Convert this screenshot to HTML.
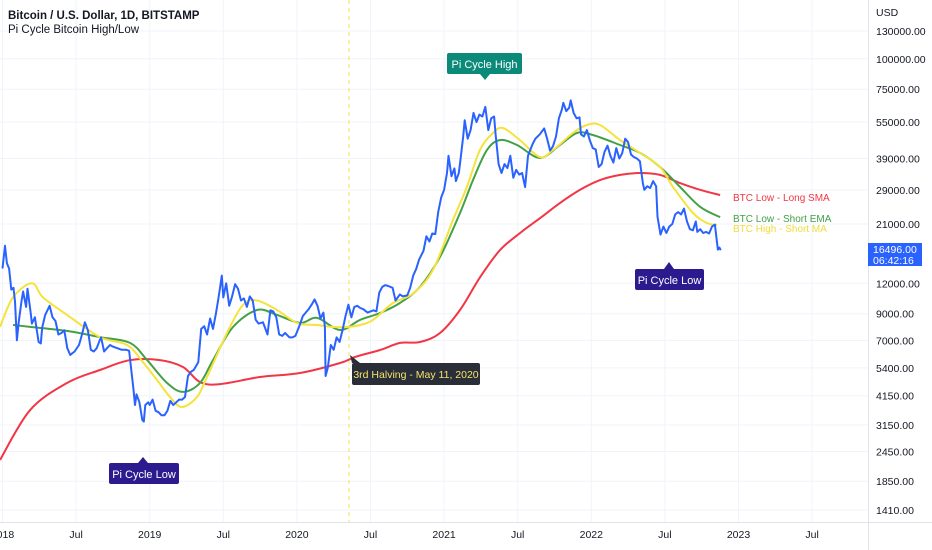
<!DOCTYPE html>
<html><head><meta charset="utf-8">
<style>
body{margin:0;background:#fff;width:932px;height:550px;overflow:hidden;font-family:"Liberation Sans",sans-serif;}
svg{display:block}
</style></head>
<body>
<svg id="chart" width="932" height="550" xmlns="http://www.w3.org/2000/svg">
<g id="grid"></g>
<g id="axes"></g>
<line x1="349" y1="0" x2="349" y2="522" stroke="#f0e35a" stroke-width="1" stroke-dasharray="4,4"/>
<g id="series"></g>
<text x="8" y="19" font-size="11.5" font-weight="bold" fill="#131722">Bitcoin / U.S. Dollar, 1D, BITSTAMP</text>
<text x="8" y="33" font-size="11.5" fill="#131722">Pi Cycle Bitcoin High/Low</text>
<g>
<rect x="447" y="53" width="75" height="21" rx="2" fill="#0b8a7a"/>
<path d="M480,74 L485,80 L490,74 Z" fill="#0b8a7a"/>
<text x="484.5" y="68" font-size="11" fill="#fff" text-anchor="middle">Pi Cycle High</text>
</g>
<g>
<rect x="109" y="463" width="70" height="21" rx="2" fill="#2b1b8f"/>
<path d="M138,463 L143,457 L148,463 Z" fill="#2b1b8f"/>
<text x="144" y="478" font-size="11" fill="#fff" text-anchor="middle">Pi Cycle Low</text>
</g>
<g>
<rect x="635" y="269" width="69" height="21" rx="2" fill="#2b1b8f"/>
<path d="M664,269 L669,262 L674,269 Z" fill="#2b1b8f"/>
<text x="669.5" y="284" font-size="11" fill="#fff" text-anchor="middle">Pi Cycle Low</text>
</g>
<g>
<rect x="352" y="363" width="128" height="22" rx="2" fill="#2a2e39"/>
<path d="M352,363 L350,355 L360,363 Z" fill="#2a2e39"/>
<text x="416" y="378" font-size="10.5" fill="#f5e36b" text-anchor="middle">3rd Halving - May 11, 2020</text>
</g>
<text x="733" y="201" font-size="10" fill="#f23645">BTC Low - Long SMA</text>
<text x="733" y="222" font-size="10" fill="#43a047">BTC Low - Short EMA</text>
<text x="733" y="232" font-size="10" fill="#f0dc3a">BTC High - Short MA</text>
<text x="876" y="16" font-size="10.5" fill="#131722">USD</text>
<g>
<rect x="868" y="243" width="54" height="23" fill="#2962ff"/>
<text x="873" y="253" font-size="10.5" fill="#fff">16496.00</text>
<text x="873" y="264" font-size="10.5" fill="#fff">06:42:16</text>
</g>
</svg>
<script>
const priceTicks=[130000,100000,75000,55000,39000,29000,21000,12000,9000,7000,5400,4150,3150,2450,1850,1410];
const priceTickLabels=["130000.00","100000.00","75000.00","55000.00","39000.00","29000.00","21000.00","12000.00","9000.00","7000.00","5400.00","4150.00","3150.00","2450.00","1850.00","1410.00"];
const dateTicks=[2018,2018.5,2019,2019.5,2020,2020.5,2021,2021.5,2022,2022.5,2023,2023.5];
const dateTickLabels=["2018","Jul","2019","Jul","2020","Jul","2021","Jul","2022","Jul","2023","Jul"];

const priceDates=[2018.0,2018.017,2018.03,2018.045,2018.06,2018.075,2018.085,2018.098,2018.11,2018.13,2018.14,2018.16,2018.17,2018.19,2018.2,2018.22,2018.23,2018.245,2018.26,2018.27,2018.29,2018.32,2018.34,2018.36,2018.38,2018.4,2018.42,2018.44,2018.46,2018.49,2018.52,2018.54,2018.56,2018.58,2018.6,2018.62,2018.64,2018.66,2018.67,2018.69,2018.71,2018.73,2018.75,2018.78,2018.81,2018.84,2018.86,2018.87,2018.89,2018.9,2018.91,2018.93,2018.95,2018.96,2018.97,2018.99,2019.0,2019.02,2019.04,2019.06,2019.08,2019.1,2019.12,2019.14,2019.16,2019.18,2019.2,2019.22,2019.24,2019.26,2019.28,2019.3,2019.33,2019.35,2019.37,2019.39,2019.41,2019.43,2019.45,2019.47,2019.49,2019.5,2019.52,2019.54,2019.56,2019.58,2019.6,2019.62,2019.64,2019.66,2019.68,2019.7,2019.72,2019.74,2019.77,2019.8,2019.82,2019.84,2019.86,2019.88,2019.9,2019.92,2019.95,2019.97,2019.99,2020.02,2020.04,2020.06,2020.08,2020.1,2020.12,2020.14,2020.16,2020.18,2020.19,2020.195,2020.21,2020.23,2020.25,2020.27,2020.29,2020.31,2020.33,2020.35,2020.37,2020.39,2020.41,2020.43,2020.45,2020.48,2020.5,2020.52,2020.54,2020.56,2020.58,2020.6,2020.62,2020.65,2020.67,2020.7,2020.72,2020.75,2020.77,2020.79,2020.81,2020.83,2020.86,2020.88,2020.9,2020.92,2020.94,2020.96,2020.98,2021.0,2021.02,2021.03,2021.05,2021.07,2021.08,2021.1,2021.11,2021.13,2021.14,2021.16,2021.18,2021.2,2021.22,2021.24,2021.26,2021.28,2021.3,2021.32,2021.34,2021.35,2021.37,2021.39,2021.41,2021.43,2021.45,2021.47,2021.49,2021.51,2021.53,2021.55,2021.57,2021.6,2021.62,2021.65,2021.68,2021.7,2021.72,2021.74,2021.76,2021.78,2021.8,2021.81,2021.83,2021.85,2021.86,2021.88,2021.9,2021.92,2021.93,2021.95,2021.97,2021.99,2022.01,2022.03,2022.05,2022.07,2022.09,2022.11,2022.13,2022.15,2022.17,2022.19,2022.21,2022.23,2022.25,2022.27,2022.29,2022.31,2022.33,2022.35,2022.36,2022.38,2022.4,2022.42,2022.44,2022.45,2022.47,2022.49,2022.51,2022.53,2022.55,2022.57,2022.59,2022.61,2022.63,2022.65,2022.67,2022.69,2022.71,2022.72,2022.74,2022.76,2022.78,2022.8,2022.82,2022.84,2022.85,2022.86,2022.87,2022.88];
const priceValues=[13800,17100,14500,13800,11300,11500,10100,7000,8300,10200,11100,9600,11400,9200,8200,8700,7900,6900,6800,7900,8900,9700,8700,8400,7400,7500,7700,6500,6100,6300,6700,7400,8300,7700,6400,6300,6500,7000,7200,6300,6500,6700,6600,6500,6400,6400,6350,5600,4400,3800,4200,3900,3300,3250,3800,3900,3800,4000,3600,3550,3450,3450,3600,3950,3800,3900,4000,4000,4100,5000,5200,5300,5700,7800,8000,7400,8600,7800,9000,10700,12900,10500,12000,9700,10600,11900,11400,10200,10400,9600,10600,10200,8500,8200,8300,7400,9300,9200,8700,7400,7300,7500,7200,7200,7300,8100,8800,9100,9400,9800,10300,9700,8600,9100,7900,5000,5400,6700,6400,7200,6900,7700,8800,9800,8700,9600,9700,9500,9400,9100,9200,9300,9200,11000,11600,11800,11700,11500,10200,10800,10600,10700,11500,12900,13700,15000,16300,18700,17800,19200,19100,23500,27000,29000,34000,40000,33000,35500,31500,34000,38000,48000,56000,47000,51000,60000,55000,59000,58000,63500,51000,57000,58000,49000,37000,34000,37000,35600,40000,32500,35000,33500,34000,29800,40000,44500,47000,49000,51800,47000,42000,43800,48000,57000,62000,66000,61000,63000,67500,60000,57000,57500,49000,48000,51000,46300,43000,42500,36000,37000,41500,44000,40000,37500,43000,39000,41000,47000,45500,40500,39500,39000,38000,31000,29000,30000,29500,31500,30000,22500,19000,20500,19300,20500,21000,23000,23500,23000,24300,21500,20000,19800,21500,19500,20000,19300,19500,19200,20500,20900,18500,16500,16800,16400];

const longSmaDates=[2017.983,2018.187,2018.438,2018.662,2018.866,2019.070,2019.226,2019.342,2019.478,2019.749,2020.021,2020.293,2020.395,2020.565,2020.701,2020.836,2020.972,2021.108,2021.244,2021.379,2021.516,2021.652,2021.787,2021.924,2022.059,2022.196,2022.331,2022.467,2022.603,2022.739,2022.875];
const longSmaValues=[2260,3620,4680,5290,5810,5810,5440,4720,4630,4950,5140,5650,5980,6390,6830,6890,7500,9320,12700,16400,19300,22200,25600,29000,31800,33400,34000,33400,30900,29000,27600];

const shortEmaDates=[2018.071,2018.187,2018.438,2018.662,2018.866,2018.982,2019.118,2019.226,2019.342,2019.430,2019.566,2019.729,2019.865,2020.021,2020.137,2020.293,2020.429,2020.565,2020.70,2020.836,2020.972,2021.108,2021.196,2021.291,2021.379,2021.495,2021.651,2021.787,2021.902,2022.011,2022.195,2022.331,2022.467,2022.603,2022.739,2022.875];
const shortEmaValues=[8100,7950,7650,7220,6830,5810,4680,4300,4680,5810,7940,9320,8900,8250,8650,7720,8490,9060,9960,11600,15400,23300,31800,42200,46400,44300,39200,44300,49600,48700,44300,41100,36000,29800,24700,22400];

const shortMaDates=[2017.983,2018.071,2018.200,2018.275,2018.438,2018.662,2018.846,2018.954,2019.050,2019.138,2019.219,2019.321,2019.389,2019.525,2019.634,2019.729,2019.865,2020.001,2020.137,2020.245,2020.34,2020.429,2020.517,2020.653,2020.789,2020.924,2021.060,2021.155,2021.243,2021.332,2021.400,2021.515,2021.651,2021.739,2021.875,2021.970,2022.059,2022.195,2022.331,2022.467,2022.555,2022.691,2022.786,2022.854];
const shortMaValues=[7940,10500,12000,10500,8900,7220,6700,5700,4810,4100,3730,4100,4950,7500,9770,10200,9320,8250,8090,7940,7940,8090,8490,9960,10900,13600,21800,29800,42200,49600,52000,46400,39500,42200,49600,53500,53500,46400,41100,36000,29800,23300,21200,20800];

const X0=2.5, PXY=147.2, TOPLOG=Math.log10(130000), TOPY=31, PXD=243.8;
function xS(t){return X0+(t-2018)*PXY;}
function yS(p){return TOPY+(TOPLOG-Math.log10(p))*PXD;}
const NS="http://www.w3.org/2000/svg";
function mk(tag,parent){const e=document.createElementNS(NS,tag);parent.appendChild(e);return e;}
const grid=document.getElementById('grid'),axes=document.getElementById('axes'),series=document.getElementById('series');

priceTicks.forEach((p,i)=>{
  const y=yS(p);
  const gl=mk('line',grid);
  
  
  gl.setAttribute('x1',0);gl.setAttribute('x2',868);gl.setAttribute('y1',y);gl.setAttribute('y2',y);
  gl.setAttribute('stroke','#f0f3fa');gl.setAttribute('stroke-width','1');
  const t=mk('text',axes);
  
  
  t.setAttribute('x',876);t.setAttribute('y',y+4);t.setAttribute('font-size','10.5');t.setAttribute('fill','#131722');
  t.textContent=priceTickLabels[i];
});
dateTicks.forEach((d,i)=>{
  const x=xS(d);
  const gl=mk('line',grid);
  
  
  gl.setAttribute('x1',x);gl.setAttribute('x2',x);gl.setAttribute('y1',0);gl.setAttribute('y2',522);
  gl.setAttribute('stroke','#f0f3fa');gl.setAttribute('stroke-width','1');
  const t=mk('text',axes);
  
  
  t.setAttribute('x',x);t.setAttribute('y',538);t.setAttribute('font-size','10.5');t.setAttribute('fill','#131722');t.setAttribute('text-anchor','middle');
  t.textContent=dateTickLabels[i];
});
const ax1=mk('line',axes);


ax1.setAttribute('x1',868.5);ax1.setAttribute('x2',868.5);ax1.setAttribute('y1',0);ax1.setAttribute('y2',550);ax1.setAttribute('stroke','#e0e3eb');
const ax2=mk('line',axes);


ax2.setAttribute('x1',0);ax2.setAttribute('x2',932);ax2.setAttribute('y1',522.5);ax2.setAttribute('y2',522.5);ax2.setAttribute('stroke','#e0e3eb');

function smoothPath(ds,vs){
  const pts=ds.map((d,i)=>[xS(d),yS(vs[i])]);
  let s='M'+pts[0][0].toFixed(1)+','+pts[0][1].toFixed(1);
  for(let i=0;i<pts.length-1;i++){
    const p0=pts[Math.max(0,i-1)],p1=pts[i],p2=pts[i+1],p3=pts[Math.min(pts.length-1,i+2)];
    const c1=[p1[0]+(p2[0]-p0[0])/6,p1[1]+(p2[1]-p0[1])/6];
    const c2=[p2[0]-(p3[0]-p1[0])/6,p2[1]-(p3[1]-p1[1])/6];
    s+=' C'+c1[0].toFixed(1)+','+c1[1].toFixed(1)+' '+c2[0].toFixed(1)+','+c2[1].toFixed(1)+' '+p2[0].toFixed(1)+','+p2[1].toFixed(1);
  }
  return s;
}
const red=mk('path',series);


red.setAttribute('d',smoothPath(longSmaDates,longSmaValues));red.setAttribute('fill','none');red.setAttribute('stroke','#f23645');red.setAttribute('stroke-width','2');
const grn=mk('path',series);


grn.setAttribute('d',smoothPath(shortEmaDates,shortEmaValues));grn.setAttribute('fill','none');grn.setAttribute('stroke','#43a047');grn.setAttribute('stroke-width','2');
const yel=mk('path',series);


yel.setAttribute('d',smoothPath(shortMaDates,shortMaValues));yel.setAttribute('fill','none');yel.setAttribute('stroke','#f5e33b');yel.setAttribute('stroke-width','2');
const pr=mk('polyline',series);


pr.setAttribute('points',priceDates.map((d,i)=>xS(d).toFixed(1)+','+yS(priceValues[i]).toFixed(1)).join(' '));
pr.setAttribute('fill','none');pr.setAttribute('stroke','#2962ff');pr.setAttribute('stroke-width','2');pr.setAttribute('stroke-linejoin','round');
</script>
</body></html>
